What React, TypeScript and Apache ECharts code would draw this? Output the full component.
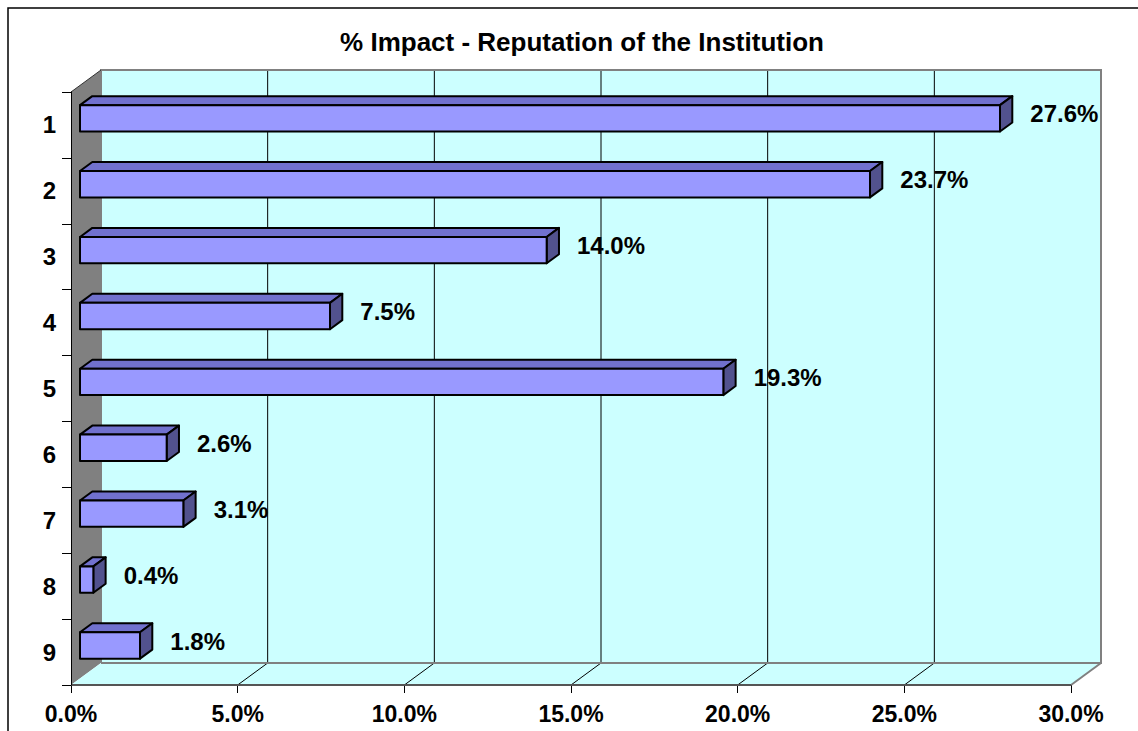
import { useEffect, useRef } from "react";
import * as echarts from "echarts";

// Survey results: share of responses per rating level
const categories = ["1", "2", "3", "4", "5", "6", "7", "8", "9"];
const impact = [27.6, 23.7, 14.0, 7.5, 19.3, 2.6, 3.1, 0.4, 1.8];
const xTicks = [0, 5, 10, 15, 20, 25, 30];
const chartTitle = "% Impact - Reputation of the Institution";

// Pseudo-3D depth of the plot box, in pixels, and the depth slice used by the bars
const DX = 30;
const DY = -22;
const BAR_FRONT = 0.3;
const BAR_BACK = 0.71;
const FONT = "Arial, 'Liberation Sans', Helvetica, sans-serif";

export default function App() {
  const ref = useRef<HTMLDivElement>(null);

  useEffect(() => {
    const chart = echarts.init(ref.current!, null, { renderer: "svg" });

    const wallsRender = (params: any, api: any) => {
      const cs = params.coordSys;
      const x0 = cs.x;
      const y0 = cs.y;
      const x1 = cs.x + cs.width;
      const y1 = cs.y + cs.height;
      const children: any[] = [];
      // left wall
      children.push({
        type: "polygon",
        shape: { points: [[x0, y0], [x0 + DX, y0 + DY], [x0 + DX, y1 + DY], [x0, y1]] },
        style: { fill: "#808080" },
      });
      // back wall
      children.push({
        type: "rect",
        shape: { x: x0 + DX, y: y0 + DY, width: x1 - x0, height: y1 - y0 },
        style: { fill: "#CCFFFF" },
      });
      // floor
      children.push({
        type: "polygon",
        shape: { points: [[x0, y1], [x0 + DX, y1 + DY], [x1 + DX, y1 + DY], [x1, y1]] },
        style: { fill: "#CCFFFF" },
      });
      // grid lines on back wall and floor
      xTicks.forEach((t) => {
        if (t === xTicks[0] || t === xTicks[xTicks.length - 1]) return;
        const xf = api.coord([t, 0])[0];
        children.push({
          type: "line",
          shape: { x1: xf + DX, y1: y0 + DY, x2: xf + DX, y2: y1 + DY },
          style: { stroke: "#000", lineWidth: 1 },
        });
        children.push({
          type: "line",
          shape: { x1: xf, y1: y1, x2: xf + DX, y2: y1 + DY },
          style: { stroke: "#000", lineWidth: 1 },
        });
      });
      // back wall outline
      children.push({
        type: "polyline",
        shape: { points: [[x0 + DX, y1 + DY], [x0 + DX, y0 + DY], [x1 + DX, y0 + DY], [x1 + DX, y1 + DY], [x0 + DX, y1 + DY]] },
        style: { stroke: "#808080", lineWidth: 2, fill: "none" },
      });
      // floor right edge
      children.push({
        type: "line",
        shape: { x1: x1, y1: y1, x2: x1 + DX, y2: y1 + DY },
        style: { stroke: "#808080", lineWidth: 2 },
      });
      // floor front edge
      children.push({
        type: "line",
        shape: { x1: x0, y1: y1, x2: x1, y2: y1 },
        style: { stroke: "#555", lineWidth: 2 },
      });
      // left wall top edge
      children.push({
        type: "line",
        shape: { x1: x0, y1: y0, x2: x0 + DX, y2: y0 + DY },
        style: { stroke: "#333", lineWidth: 1 },
      });
      return { type: "group", children };
    };

    const barRender = (params: any, api: any) => {
      const v = api.value(0);
      const ci = api.value(1);
      const [xe, yc] = api.coord([v, ci]);
      const xs = api.coord([0, ci])[0];
      const band = api.size([0, 1])[1];
      const h = band * 0.4;
      const fx = DX * BAR_FRONT;
      const fy = DY * BAR_FRONT;
      const bx = DX * BAR_BACK;
      const by = DY * BAR_BACK;
      const top = yc - h / 2;
      const bot = yc + h / 2;
      const stroke = { stroke: "#000", lineWidth: 2, lineJoin: "round" };
      return {
        type: "group",
        children: [
          {
            type: "polygon",
            shape: { points: [[xs + fx, top + fy], [xs + bx, top + by], [xe + bx, top + by], [xe + fx, top + fy]] },
            style: { fill: "#7171CE", ...stroke },
          },
          {
            type: "polygon",
            shape: { points: [[xe + fx, top + fy], [xe + bx, top + by], [xe + bx, bot + by], [xe + fx, bot + fy]] },
            style: { fill: "#52528E", ...stroke },
          },
          {
            type: "rect",
            shape: { x: xs + fx, y: top + fy, width: xe - xs, height: h },
            style: { fill: "#9999FF", ...stroke },
          },
          {
            type: "text",
            style: {
              x: xe + bx + 18,
              y: yc - 11,
              text: v.toFixed(1) + "%",
              fill: "#000",
              font: `bold 24px ${FONT}`,
              align: "left",
              verticalAlign: "middle",
            },
          },
        ],
      };
    };

    chart.setOption({
      animation: false,
      backgroundColor: "#fff",
      grid: { left: 71, top: 92, width: 1000, height: 593, containLabel: false },
      xAxis: {
        type: "value",
        min: 0,
        max: 30,
        interval: 5,
        axisLine: { show: false },
        axisTick: { show: true, length: 8, lineStyle: { color: "#000", width: 1 } },
        splitLine: { show: false },
        axisLabel: {
          formatter: (val: number) => val.toFixed(1) + "%",
          fontSize: 23,
          fontWeight: "bold",
          fontFamily: FONT,
          color: "#000",
          margin: 17,
        },
      },
      yAxis: {
        type: "category",
        data: categories,
        inverse: true,
        axisLine: { show: true, lineStyle: { color: "#000", width: 1 } },
        axisTick: { show: true, length: 9, lineStyle: { color: "#000", width: 1 } },
        axisLabel: {
          fontSize: 24,
          fontWeight: "bold",
          fontFamily: FONT,
          color: "#000",
          margin: 15,
        },
        z: 5,
      },
      graphic: [
        {
          type: "rect",
          shape: { x: 8, y: 8, width: 1200, height: 800 },
          style: { fill: "none", stroke: "#000", lineWidth: 1.5 },
          silent: true,
        },
        {
          type: "text",
          x: 582,
          y: 42,
          style: {
            text: chartTitle,
            font: `bold 26px ${FONT}`,
            fill: "#000",
            align: "center",
            verticalAlign: "middle",
          },
        },
      ],
      series: [
        {
          type: "custom",
          renderItem: wallsRender,
          data: [[0, 0]],
          encode: { x: 0, y: 1 },
          silent: true,
          z: 1,
          clip: false,
        },
        {
          type: "custom",
          renderItem: barRender,
          data: impact.map((v, i) => [v, i]),
          encode: { x: 0, y: 1 },
          z: 3,
          clip: false,
        },
      ],
    });

    return () => chart.dispose();
  }, []);

  return (
    <div
      ref={ref}
      style={{ position: "absolute", left: 0, top: 0, width: 1138, height: 731 }}
    />
  );
}
